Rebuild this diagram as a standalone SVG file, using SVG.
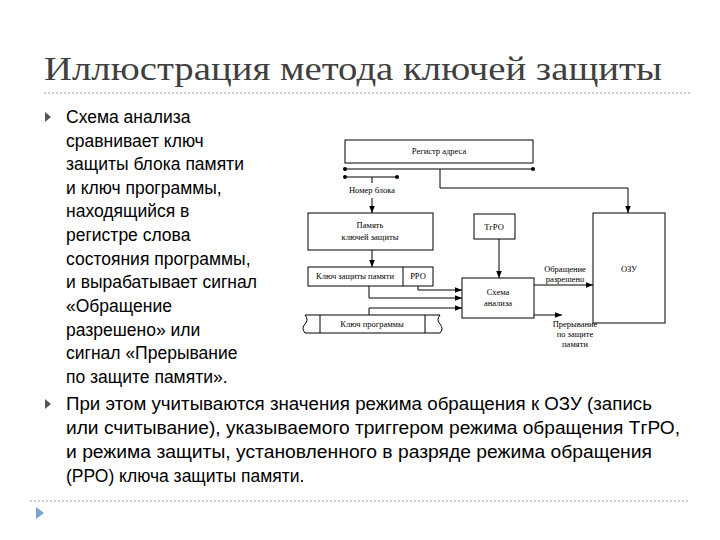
<svg xmlns="http://www.w3.org/2000/svg" width="720" height="540" viewBox="0 0 720 540">
<style>
.t{font-family:"Liberation Sans",Arial,sans-serif;font-size:17.5px;fill:#000}
.d{font-family:"Liberation Serif","Times New Roman",serif;font-size:8.5px;fill:#000}
.b{fill:#fff;stroke:#000;stroke-width:1}
.l{fill:none;stroke:#000;stroke-width:1}
</style>
<defs>
<marker id="a" viewBox="0 0 10 10" refX="10" refY="5" markerWidth="7" markerHeight="7" orient="auto"><path d="M0,1 L10,5 L0,9 z" fill="#000"/></marker>
</defs>
<rect width="720" height="540" fill="#fff"/>
<text x="44" y="80" font-family="Liberation Serif,serif" font-size="34" fill="#404040" textLength="618" lengthAdjust="spacingAndGlyphs">Иллюстрация метода ключей защиты</text>
<line x1="44" y1="93" x2="690" y2="93" stroke="#999" stroke-dasharray="2,2"/>
<line x1="30" y1="501" x2="690" y2="501" stroke="#999" stroke-dasharray="2,2"/>
<path d="M36,507 L44,513 L36,519 z" fill="#7ba3cc"/>
<path d="M45,112 L51,117 L45,122 z" fill="#555"/>
<path d="M45,399 L51,404 L45,409 z" fill="#555"/>
<g class="t">
<text x="66" y="123">Схема анализа</text>
<text x="66" y="147">сравнивает ключ</text>
<text x="66" y="170">защиты блока памяти</text>
<text x="66" y="194">и ключ программы,</text>
<text x="66" y="217">находящийся в</text>
<text x="66" y="241">регистре слова</text>
<text x="66" y="265">состояния программы,</text>
<text x="66" y="288">и вырабатывает сигнал</text>
<text x="66" y="312">«Обращение</text>
<text x="66" y="336">разрешено» или</text>
<text x="66" y="359">сигнал «Прерывание</text>
<text x="66" y="383">по защите памяти».</text>
<text x="66" y="410" textLength="586" lengthAdjust="spacingAndGlyphs">При этом учитываются значения режима обращения к ОЗУ (запись</text>
<text x="66" y="434" textLength="614" lengthAdjust="spacingAndGlyphs">или считывание), указываемого триггером режима обращения ТгРО,</text>
<text x="66" y="458" textLength="586" lengthAdjust="spacingAndGlyphs">и режима защиты, установленного в разряде режима обращения</text>
<text x="66" y="482">(РРО) ключа защиты памяти.</text>
</g>
<g id="reg"><rect class="b" x="345" y="140" width="188" height="23"/><text class="d" x="439" y="154" text-anchor="middle">Регистр адреса</text></g>
<g id="bus">
<line class="l" x1="345" y1="169" x2="533" y2="169"/><circle cx="345" cy="169" r="2"/><circle cx="533" cy="169" r="2"/>
<line class="l" x1="345" y1="177" x2="397" y2="177"/><circle cx="345" cy="177" r="2"/><circle cx="397" cy="177" r="2"/>
<text class="d" x="372" y="193" text-anchor="middle">Номер блока</text>
</g>
<g id="mem"><rect class="b" x="308" y="213" width="125" height="37"/><text class="d" x="370" y="228" text-anchor="middle">Память</text><text class="d" x="370" y="240" text-anchor="middle">ключей защиты</text></g>
<g id="key"><rect class="b" x="308" y="267" width="125" height="19"/><line class="l" x1="403" y1="267" x2="403" y2="286"/><text class="d" x="355" y="279" text-anchor="middle">Ключ защиты памяти</text><text class="d" x="418" y="279" text-anchor="middle">РРО</text></g>
<g id="prog"><path class="b" d="M305,315 L440,315 q-4,5 0,9 q4,5 0,9 L305,333 q-4,-5 0,-9 q4,-4 0,-9 z"/><line class="l" x1="320" y1="315" x2="320" y2="333"/><line class="l" x1="425" y1="315" x2="425" y2="333"/><text class="d" x="372" y="327" text-anchor="middle">Ключ программы</text></g>
<g id="tgro"><rect class="b" x="474" y="214" width="41" height="25"/><text class="d" x="494" y="230" text-anchor="middle">ТгРО</text></g>
<g id="sa"><rect class="b" x="462" y="278" width="72" height="40"/><text class="d" x="498" y="295" text-anchor="middle">Схема</text><text class="d" x="498" y="306" text-anchor="middle">анализа</text></g>
<g id="ozu"><rect class="b" x="593" y="213" width="72" height="110"/><text class="d" x="629" y="272" text-anchor="middle">ОЗУ</text></g>
<g id="connectors">
<path class="l" d="M372,177 V183"/>
<path class="l" d="M372,198 V213" marker-end="url(#a)"/>
<path class="l" d="M440,169 V188 H628 V213" marker-end="url(#a)"/>
<path class="l" d="M372,250 V267" marker-end="url(#a)"/>
<path class="l" d="M499,239 V278" marker-end="url(#a)"/>
<path class="l" d="M418,286 V290 H462" marker-end="url(#a)"/>
<path class="l" d="M369,286 V298 H462" marker-end="url(#a)"/>
<path class="l" d="M369,315 V308 H462" marker-end="url(#a)"/>
<path class="l" d="M534,285 H593" marker-end="url(#a)"/>
<path class="l" d="M534,315 H562" marker-end="url(#a)"/>
<text class="d" x="565" y="272" text-anchor="middle">Обращение</text>
<text class="d" x="565" y="282" text-anchor="middle">разрешено</text>
<text class="d" x="575" y="327" text-anchor="middle">Прерывание</text>
<text class="d" x="575" y="337" text-anchor="middle">по защите</text>
<text class="d" x="575" y="347" text-anchor="middle">памяти</text>
</g>
</svg>
